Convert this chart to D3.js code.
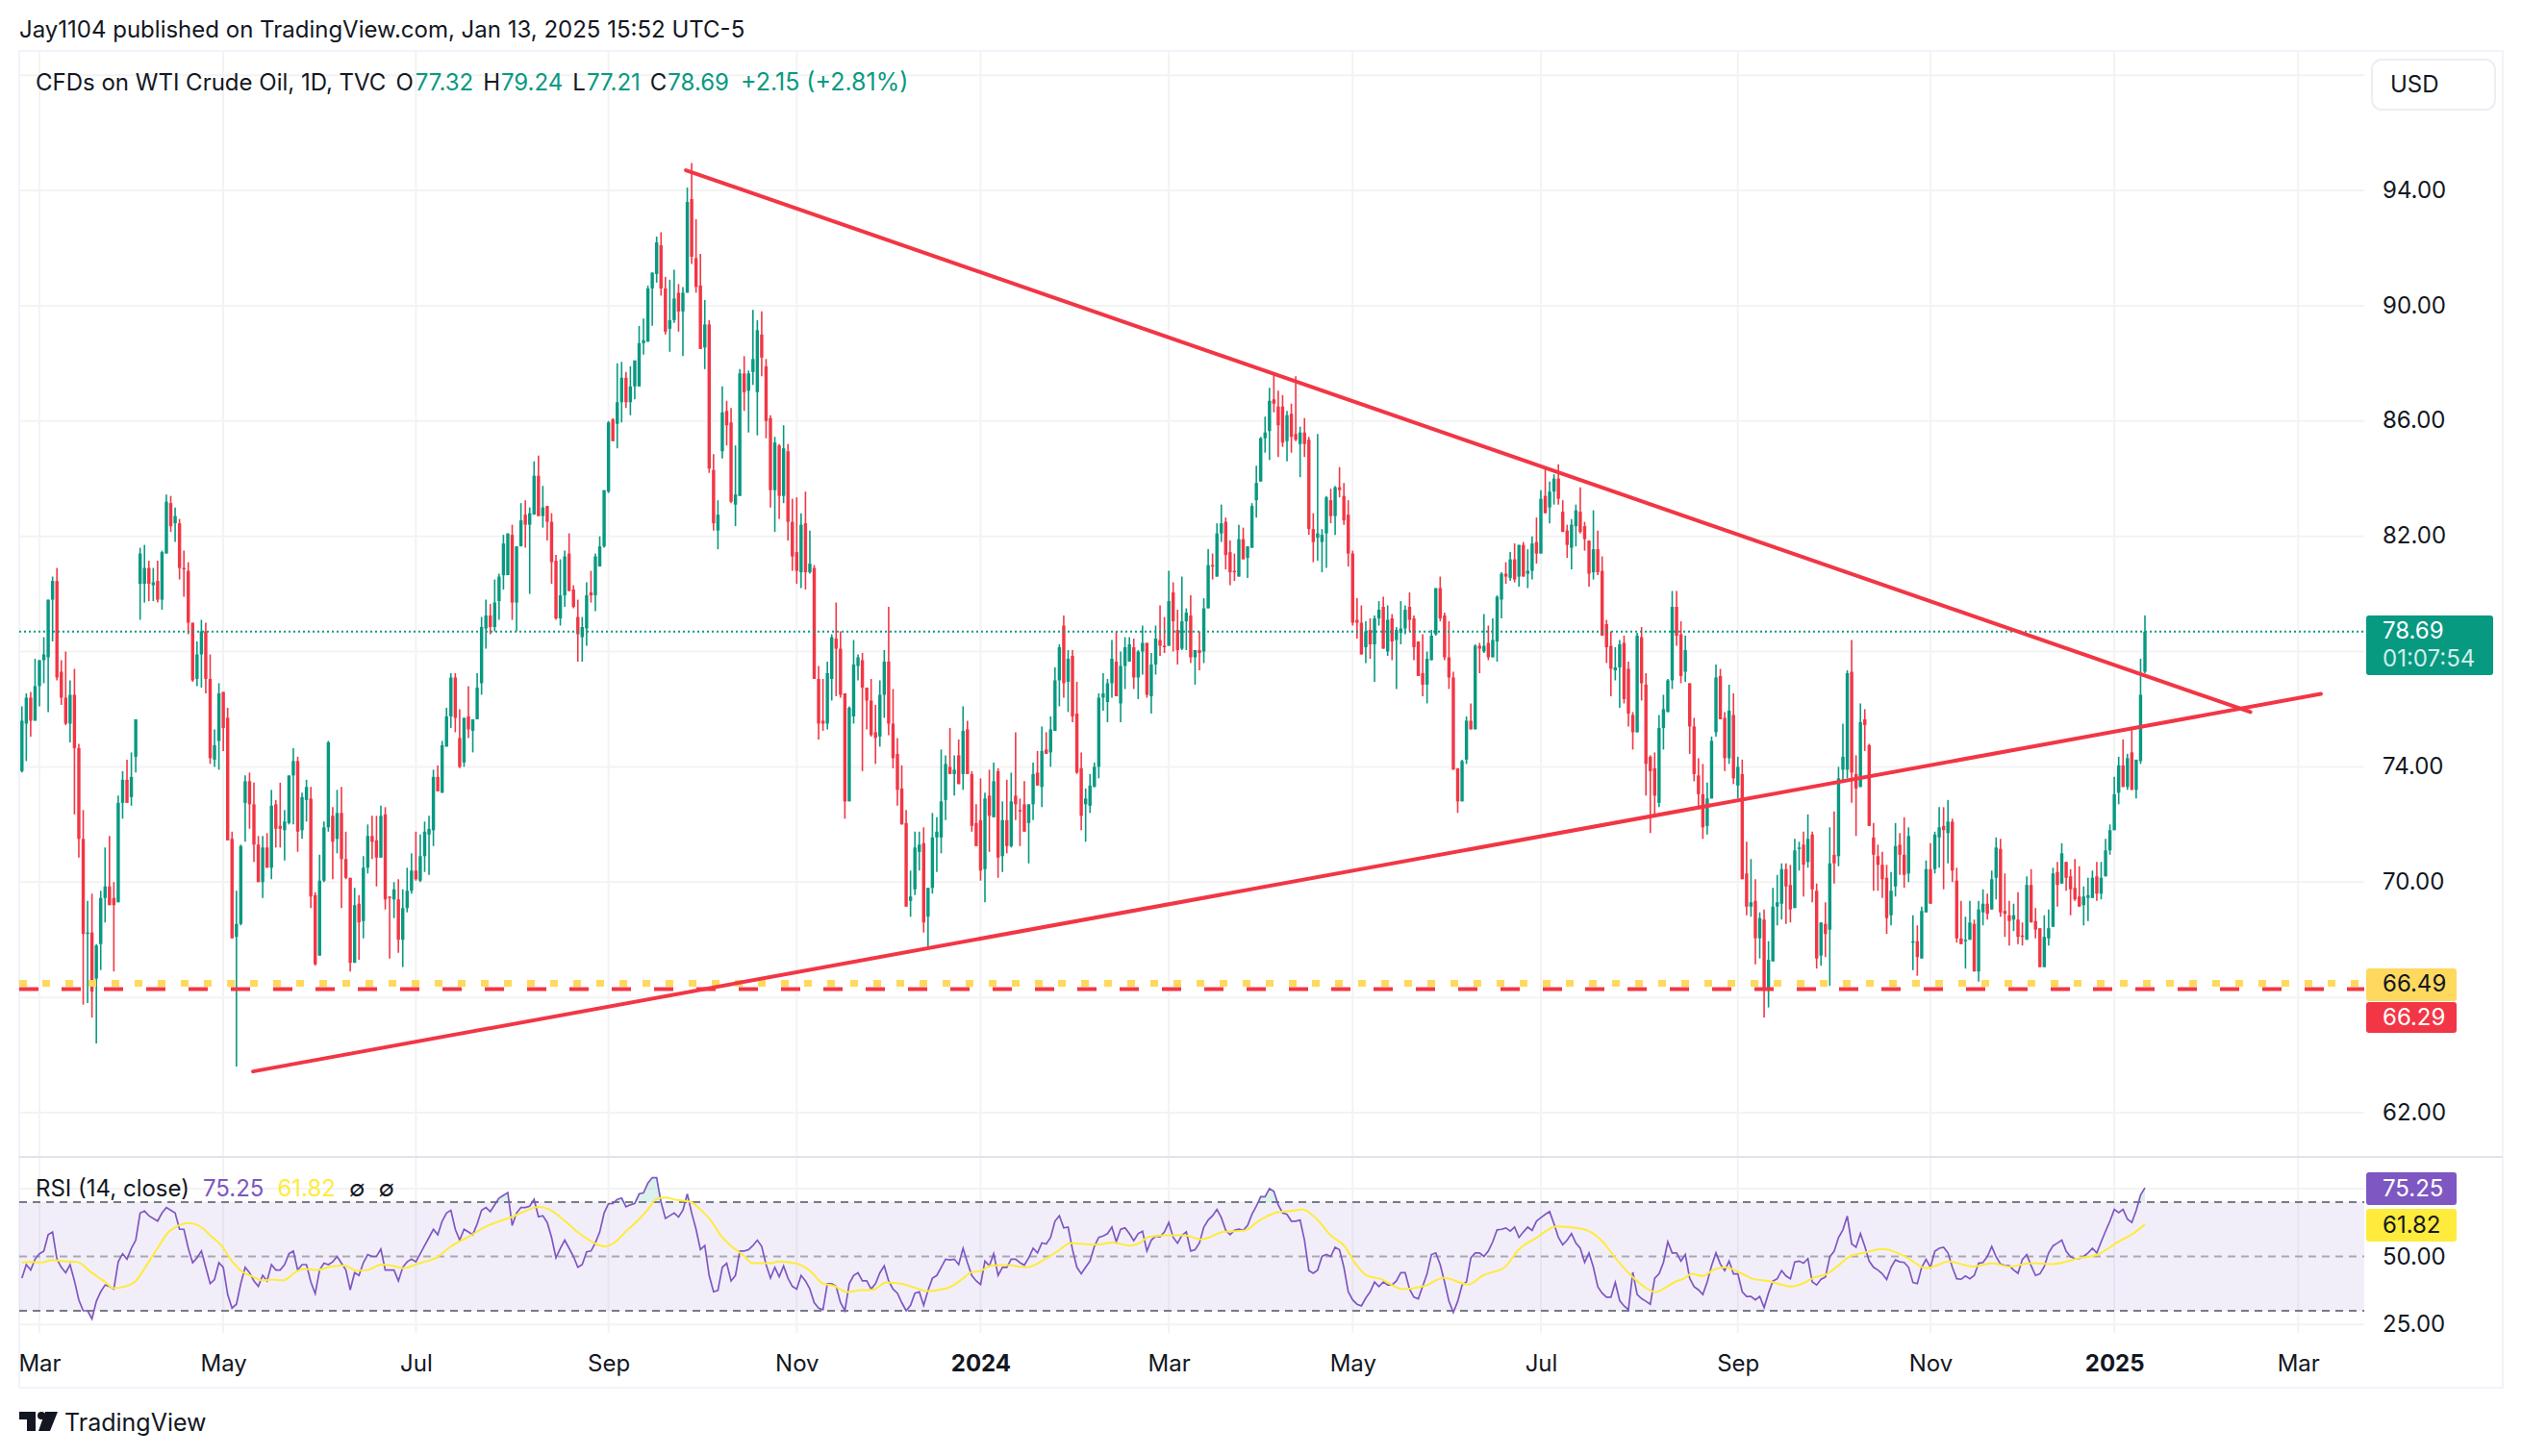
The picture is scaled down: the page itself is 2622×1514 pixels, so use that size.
<!DOCTYPE html>
<html>
<head>
<meta charset="utf-8">
<script src="https://cdn.jsdelivr.net/npm/d3@7/dist/d3.min.js"></script>
<style>
  html, body { margin: 0; background: #fff; }
  text { font-family: Inter, "Noto Sans", sans-serif; }
</style>
</head>
<body>
<div id="chart"></div>
<script>
// rows are [open, high, low, close, rsi]
const barsFebApr23 = [
[73.85,76.1,73.8,75.6,42],[75.5,76.55,74.2,76.4,47],[76.4,76.6,75.05,75.6,45],[75.6,77.75,75.6,76.8,49],[76.8,77.7,76.1,77.7,51],
[77.7,78.5,76.9,77.9,52],[77.8,79.8,75.9,79.8,58],[79.8,80.6,78.35,80.45,59],[80.45,80.9,77,77.1,49],[77.3,77.7,76.15,76.4,46],
[76.4,78,75.45,75.5,44],[75.5,77,74.85,76.5,47],[76.5,77.4,72.35,74.65,41],[74.65,74.8,70.85,71.5,34],[71.5,72.5,65.75,68.2,30],
[68.2,69.35,65.8,68.25,30],[68.25,69.6,65.3,66.2,27],[66.65,67.85,64.4,67.8,33.5],[67.85,69.7,66.95,69.45,37],[69.45,71.2,68.6,69.85,39.5],
[69.85,71.6,69.2,69.2,39],[69.45,70,66.9,69.2,38],[69.3,73,69.3,72.75,48],[72.75,73.85,72.2,73.55,51],[73.55,74.25,72.75,72.75,49],
[72.95,74.5,72.65,73.65,53],[74.35,75.65,73.8,75.65,56],[80.35,81.6,79.1,81.4,66],[80.35,81.7,79.7,80.9,66.7],[80.9,81.15,79.75,80.35,65],
[80.3,80.9,79.75,80.4,64],[80.45,81.15,79.7,79.8,63],[79.8,81.5,79.45,81.45,66],[81.4,83.45,81.4,83.2,68],[83.15,83.4,82.15,82.35,67],
[82.45,83,81.8,82.7,66],[82.45,82.6,80.5,80.9,60],[80.9,81.5,79.9,80.85,60],[80.8,81.1,78.6,79,53],[79,79,76.95,77,47.7],
[77.05,78.35,76.8,77.9,49.5],[77.9,79.1,76.75,78.7,52],[78.7,79,76.55,77.05,46],[77.05,77.9,74.1,74.3,40],[74.25,75.3,74,74.75,41.5],
[74.9,76.9,73.9,76.55,47.7],[76.6,76.6,74.55,75.35,46],[75.7,76.05,71.45,71.45,36]
];
const barsMayJul23 = [
[71.5,71.75,68.05,68.05,31],[68.1,69.7,63.6,68.55,32.4],[68.55,71.3,68.5,71.25,40],[72.75,73.7,71.4,73.5,46],[73.5,73.8,71.85,72.7,44],
[72.7,73.45,70.7,71.3,41],[71.3,71.6,70,70,39],[70,71.6,69.45,71.2,43],[71.2,71.7,70.5,70.5,41],[70.5,73.2,70.1,72.65,47],
[72.7,72.85,71.2,71.85,45],[71.95,73.45,71.2,71.85,45],[71.8,72.5,70.75,72.1,47],[72.05,73.7,72,73.7,51],[73.7,74.65,72,74.2,52],
[74.2,74.35,71.05,71.75,45],[71.8,73.1,71.5,72.95,47],[72.85,73.55,72.1,73.3,47],[72.9,73.3,69.1,69.5,40.6],[69.55,69.65,67.1,67.15,36.3],
[67.45,70.95,67.45,70.05,45],[70.05,72.1,70,71.9,47.5],[71.9,74.9,71.75,74.85,47],[72.3,72.6,70.1,71.4,48],[71.5,73.2,71,72.4,50],
[72.4,73.3,69.1,70.8,47.5],[70.8,71.75,70.1,70.15,45],[70.15,70.15,66.9,67.2,37.7],[67.2,69.8,67.2,69.2,44],[69.25,69.55,67.3,68.6,43],
[68.65,70.9,68.05,70.5,47.7],[70.5,72,70.3,71.6,50.7],[71.6,72.3,70.8,71.4,50],[71.45,72.3,69.85,70.85,50],[70.85,72.65,70.85,72.3,52.7],
[72.35,72.6,69.05,69.4,45],[69.5,69.5,67.35,69.45,45],[69.4,70,68.75,69.75,45],[69.4,70.1,67.55,68,41],[68,69.75,67.05,69.1,46],
[69.1,70.5,68.95,69.7,48],[69.7,71,69.6,70.4,49]
];
const barsJulSep23 = [
[70.4,71.75,70.05,70.1,48],[70.05,71.65,70,70.9,51],[70.9,72.1,70.35,71.75,54],[71.65,72.3,70.25,71.85,57],[71.8,73.9,71.25,73.65,60],
[73.65,74.05,73.15,73.15,58],[73.1,74.9,73.1,74.75,63],[74.7,76.05,74.7,75.75,66],[75.75,77.25,75.35,77.1,67],[77.1,77.25,75.2,75.7,60],
[75,76,73.95,74,56],[74.15,75.7,74,75.7,60],[75.75,76.8,75,75.3,59],[75.25,75.65,74.5,75.65,58],[75.65,77.25,75.65,76.75,62],
[76.9,79.2,76.5,78.85,67],[78.8,79.8,78.1,79.25,68],[79.25,79.65,78.6,78.85,66.5],[78.85,80.5,78.7,79.7,69],[79.75,80.7,79.1,80.6,71.5],
[80.65,82.05,80.15,81.75,72.5],[80.65,82.1,80.65,82.1,73.5],[82.05,82.4,79.1,79.7,61.4],[79.7,81.65,78.7,81.65,66],[81.65,83.15,81.65,82.55,68],
[82.75,83.25,81.6,82.4,68],[82.4,83,80,82.8,68.5],[82.75,84.6,82.75,84.1,71],[84.1,84.8,82.7,82.7,64.6],[82.7,83.75,82.3,83,65],
[83.05,83.05,81.85,82.5,62.5],[82.5,82.8,80.35,81.1,57],[81.15,81.35,79.1,79.15,49.5],[79.15,81.2,78.9,79.95,53],[79.95,81.5,79.55,81.3,56],
[81.4,82.1,80.1,80.1,53],[80.15,80.3,79.5,79.55,50],[79.2,79.8,77.65,78.6,46],[78.5,79.2,77.65,78.85,47],[78.8,80.4,78.2,79.95,51.7],
[80.05,80.8,79.7,79.95,52],[79.95,81.4,79.4,81.3,55],[80.95,82,80.95,81.65,59],[81.65,83.6,81.6,83.6,66],[83.55,86,83.5,85.95,69.4]
];
const barsSepNov23 = [
[86.05,86.1,85.3,85.3,69.5],[85.9,88,85.05,86.65,71],[86.65,88.05,85.95,87.5,71.5],[87.5,87.7,86.45,86.65,68.3],[86.65,87.9,86.2,87.2,69],
[87.2,88.1,86.75,88.1,69.5],[87.2,89.3,87.2,88.7,73],[88.7,89.55,88.3,88.8,73.4],[88.75,90.7,88.75,90.6,77],[90.6,91.15,89.3,91.15,79],
[91.1,92.4,90.8,92.2,79],[92.1,92.55,90.35,90.6,70],[90.6,91,89,89.1,64],[89.2,90.9,88.4,89.5,65],[89.5,91.25,89.4,90.25,66],
[90.45,90.75,89.1,89.8,64.5],[89.8,90.65,88.25,90.45,67],[90.45,94.1,90.45,93.6,73],[93.7,94.95,91.45,91.7,66],[91.65,93,90.45,90.65,60],
[90.7,91.8,88.5,88.5,52.5],[88.55,90.2,87.8,89.35,54],[89.35,89.5,84.2,84.35,43],[84.3,84.85,82.2,82.45,37],[82.2,83.25,81.55,82.75,37.5],
[84.95,87.2,84.7,86.3,46],[86.35,86.7,85.15,85.85,47.5],[85.95,86.45,83.15,83.2,41],[83.1,85.15,82.35,83.45,43],[83.4,87.8,83.4,87.65,52],
[87.65,88.25,86.35,87,52],[87.05,87.75,85.6,87.65,52.5],[87.7,89.85,87.25,88.15,54],[87,89.5,85.5,89.15,56],[89,89.8,87.55,88.2,53.7],
[87.9,88.15,85.4,86,47],[86.1,86.2,83,83.6,42],[83.6,85.45,82.15,85.25,46],[85.15,85.2,82.6,83.4,42.5],[83.4,85.85,83.15,85.05,46.5],
[84.95,85.2,81.85,82.5,42],[82.5,83.3,80.8,81.3,39],[81.45,83.35,80.35,80.8,38]
];
const barsNovJan24 = [
[80.75,82.8,80.2,82.4,43],[82.45,83.55,80.15,80.75,41],[80.75,82.2,80.7,81.05,38],[80.9,81,77.05,77.05,33],[77.05,77.5,74.95,75.5,31],
[75.6,77.05,75.25,75.5,30.4],[75.5,77.65,75.3,77.25,40],[77.05,78.6,76.3,78.5,40],[78.45,79.7,76.45,78.1,39],[78.1,78.7,76.4,76.5,33],
[76.55,76.55,72.2,72.8,30],[72.8,76.1,72.8,76.05,40],[75.75,78.4,75.5,77.55,43],[77.5,77.9,77,77.8,44],[77.7,77.95,73.85,76.75,41],
[76.75,76.75,75.3,76.3,41],[76.3,77.05,75.05,75.1,38],[75.2,76.15,74.1,75,40],[75.05,77,74.7,76.5,44],[76.5,78.05,75.7,77.65,46.5],
[77.65,79.55,75.1,75.5,41],[75.5,76.7,73.95,74.3,38],[74.45,75,72.65,73.2,36.5],[73.25,74.05,72,72,33],[72.05,72.5,69.15,69.15,30],
[69.35,70.4,68.8,69.5,32],[69.75,71.75,69.55,71.2,36.5],[71.05,71.75,70.4,71.3,37],[71.35,71.9,68.25,68.6,32],[68.8,69.8,67.75,69.8,37.5],
[69.8,72.4,69.6,71.55,42],[71.55,72.25,70.35,71.75,43],[71.55,74.6,71,72.8,46],[72.85,74.4,72.15,74.1,49],[74,75.35,73.75,73.75,48.7],
[73.75,74.4,73,73.9,49],[74.4,74.95,73.4,73.4,47],[73.75,76.1,73.2,75.25,53],[75.3,75.6,73.75,73.75,47.7],[73.75,73.85,71.75,71.95,43],
[72.05,72.7,71.25,71.25,41],[72.15,73.6,70.05,70.4,39.7]
];
const barsJanMar24 = [
[70.45,73.1,69.3,72.9,48.3],[73,73.9,71.05,72.3,46.5],[72.25,74.15,72.25,73.5,51],[73.85,73.95,70.15,70.85,43],[70.9,72.8,70.35,72.15,46],
[72.15,73.55,71,71.25,46],[71.25,73.8,71.2,72.8,49],[73,75.2,72.15,72.7,49],[72.5,72.9,71.25,72.45,47.7],[72.7,73.5,71.75,71.75,46.8],
[72.05,72.7,70.65,72.7,49.5],[72.7,74.15,72.15,73.75,53],[73.8,74.55,73.35,73.35,51.3],[73.3,75.4,72.6,74.55,55],[74.6,75.2,74.45,74.45,54.6],
[74.5,75.75,74,75.3,57],[75.25,77.45,75.25,77,63],[77,78.25,76.1,78.15,65],[78.9,79.25,76.4,76.9,60.5],[76.95,78.05,75.9,77.75,60.8],
[77.85,78.05,75.55,75.75,52.5],[75.85,76.95,73.75,73.8,46],[73.95,74.5,71.8,72.3,43.6],[72.7,73.25,71.4,72.9,46],[72.65,73.75,72.4,73.35,48.3],
[73.3,74.15,73.3,74,53.7],[74,76.55,73.6,76.4,57],[76.4,77.25,75.95,76.55,57.5],[76.25,77.05,75.55,76.9,58.4],[76.9,78.4,76.4,77.75,60.8],
[77.65,78.7,76.45,76.45,55.4],[76.2,78,75.55,77.5,60],[77.5,78.5,76.7,78.15,60.5],[77.65,78.5,77.65,78.25,58.4],[78.15,78.45,76.7,77.1,55.8],
[77.1,78.05,76.35,78,58.4],[78,78.9,77.2,78.3,59.3],[78.3,78.3,76.4,76.5,52],[76.45,77.95,75.85,77.55,56],[77.55,78.9,77.2,78.45,57.5],
[78.4,79.6,77.85,78.2,57.2],[78.2,79.2,77.95,78.15,59],[78.2,80.8,78.2,79.75,62.5]
];
const barsMarMay24 = [
[80.05,80.4,78,79.05,57],[78.75,79.45,77.55,78.05,54.9],[78.1,80.6,78.05,79.05,57.8],[79.05,79.5,78.05,79.35,59],[79.25,79.95,77.6,77.8,52],
[77.8,78.05,76.85,78.05,52.5],[78.05,78.7,77.35,77.95,55],[78,79.85,77.6,79.5,60.8],[79.5,81.55,79.5,81,63.4],[81,81.4,80.5,80.95,65],
[80.6,82.45,80.6,82.1,67.3],[82.1,83.1,81.8,82.45,64.3],[82.5,82.65,80.85,81.35,59.6],[81.45,81.85,80.3,80.75,58],[80.8,81.4,80.45,80.75,59.6],
[80.6,82.4,80.6,81.9,60],[81.9,82.3,81.2,81.2,59.6],[81.25,81.65,80.55,81.65,61.4],[81.6,83.15,81.6,83.05,65.5],[83.25,84.45,82.65,83.85,68.5],
[83.9,85.45,83.9,85.4,72],[85.4,86.15,84.9,85.6,72],[85.65,87.15,84.65,86.7,75],[86.75,87.6,86.3,86.6,74],[86.5,87.05,84.75,85.85,69],
[86.5,86.9,85.1,85.25,66],[85.3,86.35,84.6,86.2,65.5],[86.25,86.6,84.9,85.45,63],[85.55,87.55,85.3,85.35,63],[85.2,85.8,84.05,85.6,63.4],
[85.6,86.1,84.75,85.2,56],[85.35,85.45,82.05,82.25,44.8],[82.25,82.8,81.1,81.8,43.8],[81.95,85.55,81.15,82.1,45],[81.8,82.25,80.75,82.05,50],
[82.1,83.4,80.9,83.35,50.7],[83.25,83.65,82.45,82.7,50],[82.7,83.75,82.05,83.7,53.4],[83.7,84.4,83.35,83.6,52.5],[83.4,83.85,82.4,82.55,46],
[82.75,83.25,80.95,81.4,37],[81.4,81.5,78.9,79,34]
];
const barsMayJul24 = [
[79.1,79.85,78.45,79,32.4],[79,79.6,77.9,77.9,31.8],[78.15,79.05,77.6,78.7,34.7],[78.75,79.15,77.75,78.25,37],[78.25,79.25,76.95,79.15,40.6],
[79.15,79.75,78.9,79.45,38.9],[79.55,79.9,78.1,78.1,40.6],[78,79.6,77.85,79.1,39.5],[79.15,79.3,77.7,78.35,39.5],[78.4,78.85,76.7,78.75,41],
[78.65,79.75,78.25,78.8,44],[78.8,79.6,78.6,79.45,44],[79.55,80.05,78.7,79.1,38],[79.15,79.25,77.7,78.15,35],[78.35,78.35,77.15,77.15,34.4],
[77.25,78.6,76.45,76.85,39],[76.85,78,76.2,77.75,43.6],[77.7,78.75,77.7,78.55,50.7],[78.6,80.2,78.55,80.2,51.3],[80.2,80.6,79.05,79.15,47],
[79.25,79.35,77.7,77.8,40.6],[77.8,79.05,76.7,77.1,33.5],[77.1,77.3,73.9,73.9,29.4],[73.95,73.95,72.4,72.8,33.5],[72.8,74.25,72.8,74.2,39.5],
[74.25,75.75,74.1,75.6,40.6],[75.6,76.2,75.3,75.3,49.5],[75.3,78.25,75.3,78.2,51.3],[78.2,78.3,77.25,78.1,51.3],[78,79.3,77.95,78.2,50],
[78.3,78.9,77.7,77.8,52],[77.8,79.15,77.8,78.4,55.4],[78.35,79.95,77.65,79.9,59.8],[79.8,80.75,79.15,80.7,60],[80.7,81.1,80.35,80.6,60.5],
[80.55,81.45,80.45,81.2,59.3],[81.2,81.75,80.4,80.5,60.8],[80.6,81.7,80.25,81.7,57],[81.7,81.8,80.6,80.6,59],[80.7,81.55,80.2,80.8,60.8],
[80.8,82,80.5,81.75,59.6],[81.8,82.65,81.05,81.4,63]
];
const barsJulSep24 = [
[81.4,83.6,81.4,83.3,64.3],[83.4,84.35,82.8,82.8,65.5],[83,83.9,82.45,83.55,66.5],[83.55,84.15,83.1,84,62],[84,84.5,83.1,83.3,57],
[82.85,83.25,82.15,82.15,54.3],[82.2,82.4,81.25,81.7,56],[81.6,82.6,80.85,82.4,58.4],[82.35,83.1,81.65,82.9,54.9],[82.85,83.7,82.1,82.15,53],
[82.35,82.5,81.5,81.9,47.8],[81.85,81.85,80.25,80.7,51.3],[80.75,82.9,80.5,81.55,46],[81.55,82.2,80.65,80.75,38.9],[80.8,81.3,78.55,78.55,36.5],
[78.95,79.1,77.6,78.15,35],[78.2,78.7,76.45,77.4,35],[77.35,78.15,77,77.45,40.4],[77.45,78.4,76.05,78.25,33.8],[78.3,78.55,76.2,76.35,31.8],
[77.4,77.65,75.4,75.85,30.4],[75.8,75.9,74.6,75.2,44.2],[75.2,78.65,75.2,78.55,36],[78.5,78.85,76.3,76.9,34.5],[76.85,77.25,73,74.1,33.5],
[74.35,74.4,71.7,73.85,32.4],[73.95,74.5,72.3,73,42],[72.75,75.8,72.6,75.35,43.6],[75.35,76.5,74.6,76,47.8],[75.9,77.05,75.9,77,55.4],
[77,80.1,76.7,79.55,51.3],[79.55,80.1,78.2,78.55,51.3],[78.6,79.05,76.9,77.15,48.3],[77.3,78.55,76.95,78.05,50.7],[76.9,76.9,74.45,75.4,42],
[75.4,75.7,73.5,73.75,38.9],[73.7,74.3,72.6,73.05,37.7],[73.05,74.1,71.5,71.9,36],[71.95,73.45,71.65,72.9,40.6],[72.9,75.05,72.9,74.9,46.6],
[75.2,77.55,75.05,77.1,51.3],[77.15,77.4,75.65,75.65,47.2],[75.7,75.9,73.85,74.3,44.8],[74.3,76.85,74.1,75.95,48.3],[75.8,76.55,73.4,73.6,43.6]
];
const barsSepNov24 = [
[73.35,74.35,72.9,74,43.6],[73.75,74.25,70.1,70.1,37],[70.3,71.4,68.85,69.15,35.3],[69.15,70.8,68.8,69.3,35.3],[69.35,70.1,67.15,68.05,34],
[68.05,68.95,67.35,68.75,35.3],[68.7,69.05,65.3,66.3,31.2],[66.3,67.95,65.65,67.3,36.5],[67.25,69.8,67.25,69.15,40.9],[69.15,70.25,68.5,69.3,41.8],
[69.25,70.65,68.7,70.45,44.8],[70.45,70.65,68.55,69.85,42.8],[69.9,70.6,68.6,69.05,41.8],[69.1,71.5,69.1,71.1,48],[71.15,71.4,70.4,71.2,48.3],
[71.3,71.75,69.5,70.6,47.5],[70.7,72.35,70.5,71.5,49.2],[71.65,71.75,69.3,69.75,40.6],[69.7,69.95,67,67.35,39.5],[67.45,68.6,67.1,68.6,41.6],
[68.55,69.3,67.4,68.2,42.4],[68.35,71.9,66.4,70.65,49.9],[70.95,72.45,69.95,70.65,51.9],[70.9,74,70.55,73.6,57],[73.9,75.5,73.5,74.35,59.8],
[73.9,77.35,73.6,77.25,64.9],[77.3,78.4,72.75,73.8,54.6],[73.75,74.4,71.6,73.25,53.4],[73.3,76.2,73.3,75.55,58.4],[75.65,76,74.55,75.45,53.7],
[74.75,74.8,71.95,71.95,48.3],[71.55,72.05,69.7,70.95,46],[70.9,71.3,69.7,70.6,45],[70.6,71.05,69.45,70.1,43.6],[70.15,70.6,68.2,68.75,41.5],
[68.85,70.35,68.5,69.7,46],[69.85,72.05,69.5,71.25,48.7],[71.3,71.7,70.25,70.95,48],[70.95,72.25,69.8,70.25,47.8],[70.3,71.9,70,71.6,46],
[67.95,68.85,66.95,67.95,40.4],[67.95,68.5,66.75,67.4,40],[67.35,69.15,67.35,69,46],[68.95,70.75,68.95,70.45,48.9],[70.45,71.35,69.25,69.25,46]
];
const barsNovJan25 = [
[70.45,71.75,70.3,71.65,51.9],[71.55,72.6,70.5,71.9,53],[71.95,72.6,69.75,71.8,53.4],[71.7,72.85,70.65,72.1,51.3],[72.1,72.2,70,70.4,46],
[70.05,70.5,67.9,68.05,41.8],[68.05,69.35,67.85,67.85,41.6],[67.95,68.8,67,68,42.8],[68,69.35,68,68.6,41.8],[68.55,68.7,66.9,66.9,43],
[66.9,69.35,66.55,69.05,47.5],[68.95,69.75,68.5,69.25,47.8],[69.25,69.6,68.7,68.9,50],[69.05,70.4,69.05,70.1,53.7],[70.15,71.55,69.4,71.2,49.9],
[71.15,71.5,68.8,68.95,47.2],[69,70.3,68.1,68.9,46.6],[68.85,69.35,67.8,68.65,46.6],[68.7,69.25,68.3,68.85,45],[68.7,69.65,67.85,68.1,43.8],
[68.15,68.6,67.8,68.1,48.9],[68,70.2,68,69.9,50.7],[69.9,70.45,68.6,68.6,46.6],[68.65,69.1,68.05,68.35,43],[68.4,68.4,67.05,67.05,43.6],
[67.05,68.85,67.05,68.1,46.3],[68.05,69.05,67.8,68.4,51.3],[68.45,70.5,68.45,70.3,53.9],[70.35,70.7,69.15,69.9,54.9],[69.95,71.35,69.95,71,56],
[70.7,70.7,69.7,70.15,51.9],[70.2,70.45,68.85,69.75,49.9],[69.8,70.8,69.35,69.4,49.2],[69.5,70.55,69.15,69.15,49.2],[69.2,69.85,68.5,69.5,50],
[69.45,70.15,68.65,69.55,51.3],[69.45,70.4,69.45,70.15,53],[70.2,70.7,69.35,69.6,51.3],[69.6,70.7,69.4,70.15,55.4],[70.2,71.5,70.2,71.1,59.3],
[71.1,72,70.95,71.8,63],[71.8,73.65,71.8,73.05,67.3],[73.1,74.35,72.7,74.05,66.1],[74.05,74.95,73.3,73.3,67.3],[73.3,74.45,73.2,74.3,63.7],
[74.5,75.3,73.2,73.2,62.5],[73.2,74.25,72.9,74.25,66.9],[74.2,77.75,74.1,76.5,72.6],[77.3,79.25,77.25,78.69,75.25]
];
const candles = [].concat(barsFebApr23, barsMayJul23, barsJulSep23, barsSepNov23, barsNovJan24,
    barsJanMar24, barsMarMay24, barsMayJul24, barsJulSep24, barsSepNov24, barsNovJan25);

// RSI-based MA line, read at the points where it bends
const rsiMaBars = [0,1.3,4.5,7,10,12.6,15.8,19,21,23.4,26,28.4,31,33.5,35.3,38,40.4,43,45.4,48,50,52.4,55,57.4,59.7,62.5,64.3,67.5,70.6,73.8,76.3,78.9,82,84.5,87,90.8,95,98,102,106,112,115,118,120.5,124,127.4,130.6,133,135.6,138,140.6,143,145,147,149.5,152.6,155,157.7,159.6,162,164.6,167,171,172.8,176.6,180,183,185.4,188.6,191.7,194.3,197.5,201.3,203.8,206.7,211.4,214.2,217,218.9,221.4,225.2,229.6,233.4,236.6,239.5,245.4,249.2,253,254.9,257.4,261.2,265.6,269.4,274.4,279.4,282.6,286.4,289.5,292.7,295.8,299,302.2,304.7,307.2,310.3,315.4,320.4,324.8,330.5,333.7,338.7,341.9,345.7,350.7,356.4,360.8,364,368.4,373.4,375.2,377.7,379.6,381.5,384,386.5,389,392.8,395.3,399.1,404.2,407.3,409.2,412.4,414.9,417.4,421.2,425,427.5,430.7,435,437.6,440.1,445.8,450.2,454,459,464.1,469.7,474.2,479.2,482.3,485];
const rsiMaValues = [47.75,48,47.75,48.7,48.1,48,44.2,40.6,38.3,38.9,41,46.6,53.1,59,61,62.3,61.4,57.8,54.3,48.3,44.8,42.8,41.2,41.5,41.2,44.2,45.4,45,46.3,46.6,44.8,45,47,46.6,45.7,47.5,49.9,53.7,57.2,61,64.6,66.7,68.2,67.3,63.1,58.4,55.1,53.7,55.4,59.3,63.1,67.3,71.2,71.7,70.8,70.2,67.3,62.5,57.8,53.9,50.7,47.5,47.5,48.1,47.5,44.8,40,39.2,36.9,37.6,37.7,40.4,39.8,38.6,37.3,38.3,40.9,44.2,44.6,46.6,46.8,46,48.7,51.9,54.9,54.3,55.1,54,54.6,57.2,57.8,57.8,56.3,59,59.6,63.1,66.1,66.7,67.3,63.7,57.8,53.7,47.2,43,41.8,38,39.1,42.1,39.7,43,46,52.5,56.6,61.1,60.2,56,49.5,41.8,36.9,38.3,40.7,41.8,43.6,42.8,45.1,46,43.8,41.8,40.9,38.9,40.4,42.1,43.6,46.6,49.9,51.5,52.7,51.9,49.5,45.7,46.8,48.1,46.3,47.5,46.2,47.5,47.2,49.3,50.7,55.7,58.4,61.82];

const priceGrid = [98, 94, 90, 86, 82, 78, 74, 70, 66, 62];
const priceTicks = [94, 90, 86, 82, 74, 70, 62];
const rsiGrid = [75, 25];
const rsiTicks = [50, 25];
const rsiBands = [70, 50, 30];

const timeTickBars = [4, 46, 90, 134, 177, 219, 262, 304, 347, 392, 436, 478, 520];
const timeTickLabels = ['Mar', 'May', 'Jul', 'Sep', 'Nov', '2024', 'Mar', 'May', 'Jul', 'Sep', 'Nov', '2025', 'Mar'];
const boldYears = ['2024', '2025'];

// trend lines as [bar, price] end points, horizontal levels in price
const upperTrend = [[151.7, 94.7], [509.1, 75.9]];
const lowerTrend = [[52.8, 63.43], [525.2, 76.53]];
const levelGold = 66.49;
const levelRed = 66.29;
const lastClose = 78.69;

const GREEN = '#089981', RED = '#F23645', PURPLE = '#7E57C2', YELLOW = '#FFEB3B', GOLD = '#FFD95E';
const INK = '#131722', GRID = '#f3f3f4', FRAME = '#f0f3fa';
const LEFT = 20, PANE_RIGHT = 2458, FRAME_RIGHT = 2602, TOP = 53, DIVIDER = 1203, PANE_BOTTOM = 1386, BOTTOM = 1443;

const barX = d3.scaleLinear().domain([0, candles.length - 1]).range([22.8, 2230]);
const priceY = d3.scaleLinear().domain([94, 62]).range([198, 1157]);
const rsiY = d3.scaleLinear().domain([70, 30]).range([1250, 1363]);

const svg = d3.select('#chart').append('svg')
    .attr('width', 2622)
    .attr('height', 1514)
    .style('display', 'block');

const defs = svg.append('defs');
defs.append('clipPath').attr('id', 'clip-price').append('rect')
    .attr('x', LEFT).attr('y', TOP).attr('width', PANE_RIGHT - LEFT).attr('height', DIVIDER - TOP);
defs.append('clipPath').attr('id', 'clip-rsi').append('rect')
    .attr('x', LEFT).attr('y', DIVIDER).attr('width', PANE_RIGHT - LEFT).attr('height', PANE_BOTTOM - DIVIDER);
defs.append('clipPath').attr('id', 'clip-over').append('rect')
    .attr('x', LEFT).attr('y', DIVIDER).attr('width', PANE_RIGHT - LEFT).attr('height', rsiY(70) - DIVIDER);
defs.append('clipPath').attr('id', 'clip-under').append('rect')
    .attr('x', LEFT).attr('y', rsiY(30)).attr('width', PANE_RIGHT - LEFT).attr('height', PANE_BOTTOM - rsiY(30));

// grid
svg.append('g').selectAll('line')
    .data(timeTickBars)
    .join('line')
    .attr('x1', d => barX(d)).attr('x2', d => barX(d))
    .attr('y1', TOP).attr('y2', PANE_BOTTOM)
    .attr('stroke', GRID).attr('stroke-width', 2);

svg.append('g').selectAll('line')
    .data(priceGrid)
    .join('line')
    .attr('x1', LEFT).attr('x2', PANE_RIGHT)
    .attr('y1', d => priceY(d)).attr('y2', d => priceY(d))
    .attr('stroke', GRID).attr('stroke-width', 2);

// frame
svg.append('rect')
    .attr('x', LEFT).attr('y', TOP)
    .attr('width', FRAME_RIGHT - LEFT).attr('height', BOTTOM - TOP)
    .attr('fill', 'none').attr('stroke', FRAME).attr('stroke-width', 2);
svg.append('line')
    .attr('x1', LEFT).attr('x2', FRAME_RIGHT)
    .attr('y1', DIVIDER).attr('y2', DIVIDER)
    .attr('stroke', '#e0e3eb').attr('stroke-width', 2);

// candles
const candleG = svg.append('g').attr('clip-path', 'url(#clip-price)');
candleG.selectAll('line.wick')
    .data(candles)
    .join('line')
    .attr('class', 'wick')
    .attr('x1', (d, i) => barX(i)).attr('x2', (d, i) => barX(i))
    .attr('y1', d => priceY(d[1])).attr('y2', d => priceY(d[2]))
    .attr('stroke', d => d[3] >= d[0] ? GREEN : RED)
    .attr('stroke-width', 1.6);
candleG.selectAll('rect.body')
    .data(candles)
    .join('rect')
    .attr('class', 'body')
    .attr('x', (d, i) => barX(i) - 1.7)
    .attr('width', 3.4)
    .attr('y', d => priceY(Math.max(d[0], d[3])))
    .attr('height', d => Math.max(1.5, Math.abs(priceY(d[0]) - priceY(d[3]))))
    .attr('fill', d => d[3] >= d[0] ? GREEN : RED);

// levels and trend lines
const overlay = svg.append('g').attr('clip-path', 'url(#clip-price)');
overlay.append('line')
    .attr('x1', LEFT).attr('x2', PANE_RIGHT)
    .attr('y1', priceY(lastClose)).attr('y2', priceY(lastClose))
    .attr('stroke', GREEN).attr('stroke-width', 2).attr('stroke-dasharray', '2 3');
overlay.append('line')
    .attr('x1', LEFT).attr('x2', PANE_RIGHT)
    .attr('y1', priceY(levelGold)).attr('y2', priceY(levelGold))
    .attr('stroke', GOLD).attr('stroke-width', 7).attr('stroke-dasharray', '8 16');
overlay.append('line')
    .attr('x1', LEFT).attr('x2', PANE_RIGHT)
    .attr('y1', priceY(levelRed)).attr('y2', priceY(levelRed))
    .attr('stroke', RED).attr('stroke-width', 4).attr('stroke-dasharray', '20 24');

const trendLine = d3.line().x(d => barX(d[0])).y(d => priceY(d[1]));
overlay.selectAll('path.trend')
    .data([upperTrend, lowerTrend])
    .join('path')
    .attr('class', 'trend')
    .attr('d', trendLine)
    .attr('fill', 'none')
    .attr('stroke', RED)
    .attr('stroke-width', 4)
    .attr('stroke-linecap', 'round');

// rsi pane
svg.append('rect')
    .attr('x', LEFT).attr('width', PANE_RIGHT - LEFT)
    .attr('y', rsiY(70)).attr('height', rsiY(30) - rsiY(70))
    .attr('fill', PURPLE).attr('fill-opacity', 0.1);
svg.append('g').selectAll('line')
    .data(rsiGrid)
    .join('line')
    .attr('x1', LEFT).attr('x2', PANE_RIGHT)
    .attr('y1', d => rsiY(d)).attr('y2', d => rsiY(d))
    .attr('stroke', GRID).attr('stroke-width', 2);
svg.append('g').selectAll('line')
    .data(rsiBands)
    .join('line')
    .attr('x1', LEFT).attr('x2', PANE_RIGHT)
    .attr('y1', d => rsiY(d)).attr('y2', d => rsiY(d))
    .attr('stroke', '#787B86')
    .attr('stroke-opacity', d => d === 50 ? 0.6 : 1)
    .attr('stroke-width', 2)
    .attr('stroke-dasharray', '8 6');

const rsiPoints = candles.map((d, i) => [i, d[4]]);
svg.append('path')
    .datum(rsiPoints)
    .attr('clip-path', 'url(#clip-over)')
    .attr('fill', GREEN).attr('fill-opacity', 0.14)
    .attr('d', d3.area().x(d => barX(d[0])).y0(rsiY(70)).y1(d => rsiY(d[1])));
svg.append('path')
    .datum(rsiPoints)
    .attr('clip-path', 'url(#clip-under)')
    .attr('fill', RED).attr('fill-opacity', 0.14)
    .attr('d', d3.area().x(d => barX(d[0])).y0(rsiY(30)).y1(d => rsiY(d[1])));

const rsiG = svg.append('g').attr('clip-path', 'url(#clip-rsi)');
rsiG.append('path')
    .datum(rsiPoints)
    .attr('fill', 'none').attr('stroke', PURPLE).attr('stroke-width', 1.7)
    .attr('d', d3.line().x(d => barX(d[0])).y(d => rsiY(d[1])));
rsiG.append('path')
    .datum(rsiMaBars.map((b, i) => [b, rsiMaValues[i]]))
    .attr('fill', 'none').attr('stroke', YELLOW).attr('stroke-width', 2)
    .attr('d', d3.line().curve(d3.curveMonotoneX).x(d => barX(d[0])).y(d => rsiY(d[1])));

// axes
const priceAxis = d3.axisRight(priceY)
    .tickValues(priceTicks).tickSize(0).tickPadding(0)
    .tickFormat(d3.format('.2f'));
const rsiAxis = d3.axisRight(rsiY)
    .tickValues(rsiTicks).tickSize(0).tickPadding(0)
    .tickFormat(d3.format('.2f'));
const timeAxis = d3.axisBottom(barX)
    .tickValues(timeTickBars).tickSize(0).tickPadding(0)
    .tickFormat((d, i) => timeTickLabels[i]);

function styleAxis(g) {
    g.select('.domain').remove();
    g.selectAll('text')
        .style('font-family', 'Inter, sans-serif')
        .style('font-size', '24px')
        .attr('fill', INK);
}
svg.append('g').attr('transform', `translate(2477,-0.5)`).call(priceAxis).call(styleAxis);
svg.append('g').attr('transform', `translate(2477,0)`).call(rsiAxis).call(styleAxis);
svg.append('g').attr('transform', `translate(0,1409)`).call(timeAxis).call(styleAxis)
    .selectAll('text')
    .style('font-weight', (d, i) => boldYears.includes(timeTickLabels[i]) ? 700 : 400);

// price tags on the axis
function addTag(x, y, w, h, fill, lines, textFill) {
    svg.append('rect')
        .attr('x', x).attr('y', y).attr('width', w).attr('height', h)
        .attr('rx', 3).attr('fill', fill);
    lines.forEach(l => {
        svg.append('text')
            .attr('x', 2477).attr('y', l.y)
            .attr('font-size', 24)
            .attr('fill', l.fill || textFill)
            .text(l.text);
    });
}
addTag(2460, 640, 132, 62, GREEN, [
    { text: '78.69', y: 664 },
    { text: '01:07:54', y: 693, fill: '#cfeee8' }
], '#fff');
addTag(2460, 1007, 94, 34, GOLD, [{ text: '66.49', y: 1031 }], INK);
addTag(2460, 1042, 94, 32, RED, [{ text: '66.29', y: 1066 }], '#fff');
addTag(2460, 1219, 94, 34, PURPLE, [{ text: '75.25', y: 1244 }], '#fff');
addTag(2460, 1257, 94, 34, YELLOW, [{ text: '61.82', y: 1282 }], INK);

// currency button
svg.append('rect')
    .attr('x', 2466).attr('y', 62).attr('width', 128).attr('height', 52)
    .attr('rx', 10).attr('fill', '#fff').attr('stroke', '#eceef3').attr('stroke-width', 2);
svg.append('text')
    .attr('x', 2485).attr('y', 96).attr('font-size', 24).attr('fill', INK)
    .text('USD');

// headline and legends
svg.append('text')
    .attr('x', 20).attr('y', 39).attr('font-size', 24).attr('fill', INK)
    .text('Jay1104 published on TradingView.com, Jan 13, 2025 15:52 UTC-5');

function addLegend(x, y, parts) {
    const t = svg.append('text').attr('x', x).attr('y', y).attr('font-size', 24);
    parts.forEach(p => {
        t.append('tspan').attr('fill', p[1]).attr('dx', p[2] || 0)
            .attr('font-size', p[3] || 24).text(p[0]);
    });
}
addLegend(37, 94, [
    ['CFDs on WTI Crude Oil, 1D, TVC', INK],
    ['O', INK, 10], ['77.32', GREEN, 2],
    ['H', INK, 10], ['79.24', GREEN, 1],
    ['L', INK, 10], ['77.21', GREEN, 1],
    ['C', INK, 10], ['78.69', GREEN, 1],
    ['+2.15 (+2.81%)', GREEN, 12, 25]
]);
addLegend(37, 1244, [
    ['RSI (14, close)', INK],
    ['75.25', PURPLE, 14],
    ['61.82', YELLOW, 14],
    ['∅', INK, 14],
    ['∅', INK, 14]
]);

// footer logo
svg.append('path')
    .attr('d', 'M20 1468H37V1488H28V1476H20Z M47 1468H60L52 1488H40Z')
    .attr('fill', INK);
svg.append('circle').attr('cx', 43).attr('cy', 1472).attr('r', 4).attr('fill', INK);
svg.append('text')
    .attr('x', 67).attr('y', 1488).attr('font-size', 25).attr('font-weight', 400).attr('fill', INK)
    .text('TradingView');
</script>
</body>
</html>
